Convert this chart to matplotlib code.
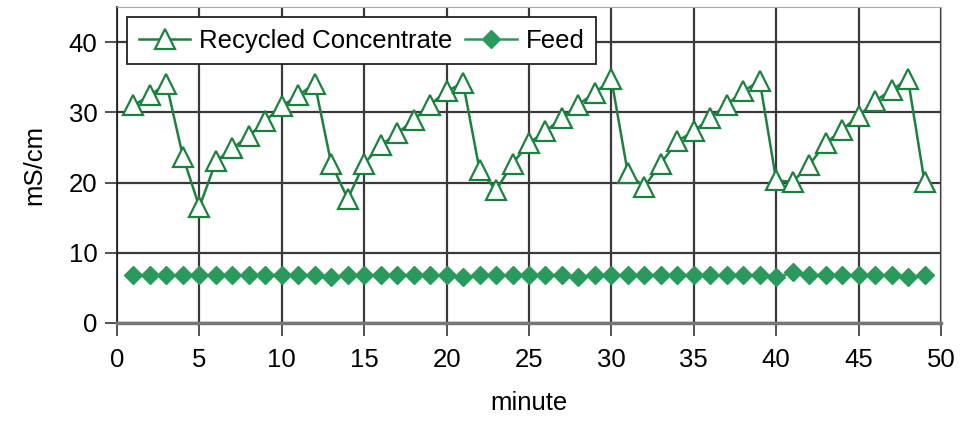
import numpy as np
import matplotlib
matplotlib.use("Agg")
import matplotlib.pyplot as plt

plt.rcParams['font.family'] = ['Liberation Sans Narrow', 'Liberation Sans', 'DejaVu Sans']

minutes = list(range(1, 50))
# conductivity of the recycled concentrate
recycled = [31.0, 32.4, 34.1, 23.7, 16.5, 23.0, 24.9, 26.6, 28.8, 30.9,
            32.4, 34.1, 22.7, 17.7, 22.7, 25.3, 27.0, 28.9, 31.1, 33.0,
            34.2, 21.8, 18.9, 22.7, 25.6, 27.3, 29.2, 31.1, 32.8, 34.7,
            21.3, 19.4, 22.7, 25.9, 27.3, 29.2, 31.1, 33.0, 34.5, 20.3,
            20.1, 22.5, 25.6, 27.5, 29.5, 31.6, 33.2, 34.7, 20.1]
feed = [6.8, 6.8, 6.8, 6.8, 6.8, 6.8, 6.8, 6.8, 6.8, 6.8,
        6.8, 6.8, 6.5, 6.8, 6.8, 6.8, 6.8, 6.8, 6.8, 6.8,
        6.5, 6.8, 6.8, 6.8, 6.8, 6.8, 6.8, 6.5, 6.8, 6.8,
        6.8, 6.8, 6.8, 6.8, 6.8, 6.8, 6.8, 6.8, 6.8, 6.5,
        7.2, 6.8, 6.8, 6.8, 6.8, 6.8, 6.8, 6.5, 6.8]

green = '#1b813f'
green_fill = '#2a9a5c'
fs = 18.5

fig = plt.figure(figsize=(9.78, 4.21), dpi=100)
ax = fig.add_axes([117/978, 98/421, 824/978, 316/421])

ax.plot(minutes, recycled, color=green, lw=1.8, marker='^', ms=14,
        mfc='white', mec=green, mew=1.6, label='Recycled Concentrate')
ax.plot(minutes, feed, color=green_fill, lw=1.8, marker='D', ms=9.5,
        mfc=green_fill, mec=green_fill, label='Feed')

ax.set_xlim(0, 50)
ax.set_ylim(0, 45)
ax.set_xticks(range(0, 51, 5))
ax.set_yticks(range(0, 41, 10))
ax.grid(True, color='#3a3a3a', lw=1.6)
ax.set_axisbelow(True)
ax.tick_params(axis='both', labelsize=fs, length=9, width=1.2, color='#333333', pad=5)
ax.tick_params(axis='x', pad=9)

for side in ['top', 'right']:
    ax.spines[side].set_color('#aaaaaa')
ax.spines['bottom'].set_color('#777777')
ax.spines['bottom'].set_linewidth(2.5)
ax.spines['left'].set_color('#222222')
ax.spines['left'].set_linewidth(1.3)

ax.set_xlabel('minute', fontsize=fs, labelpad=14)
ax.set_ylabel('mS/cm', fontsize=fs, labelpad=16)

leg = ax.legend(loc='upper left', ncol=2, fontsize=fs, frameon=True, fancybox=False,
                edgecolor='#222222', framealpha=1, handlelength=2.0,
                borderaxespad=0.4, borderpad=0.45, columnspacing=0.5, handletextpad=0.35)
leg.get_frame().set_linewidth(1.3)

fig.savefig('out.png', dpi=100)
